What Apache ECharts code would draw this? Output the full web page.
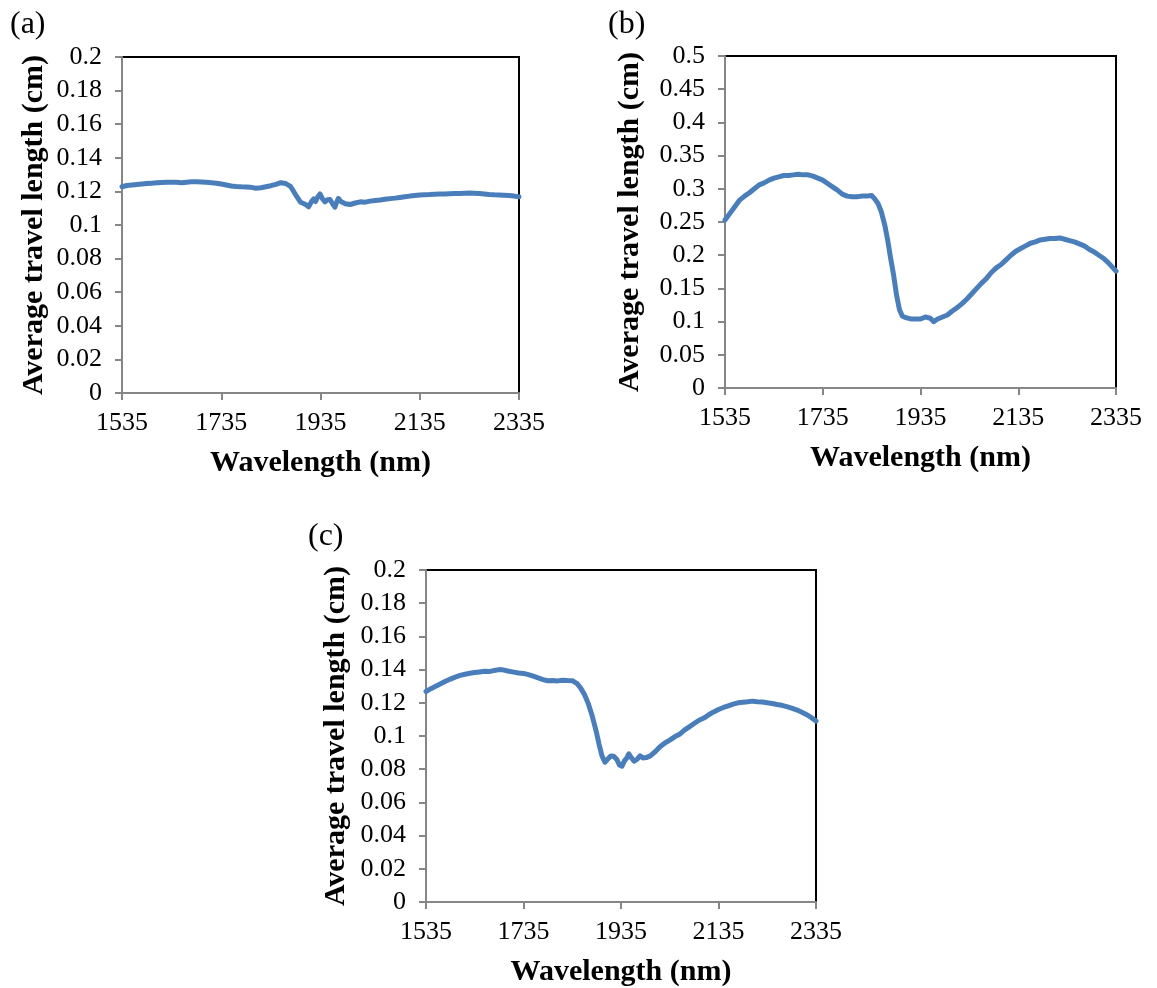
<!DOCTYPE html>
<html>
<head>
<meta charset="utf-8">
<script src="https://cdn.jsdelivr.net/npm/echarts@6/dist/echarts.min.js"></script>
<style>
html,body{margin:0;padding:0;background:#fff;}
#chart{width:1157px;height:988px;}
</style>
</head>
<body>
<div id="chart"></div>
<script>
// ---- Data ----
const panelLabels = ['(a)', '(b)', '(c)'];
const xTitle = 'Wavelength (nm)';
const yTitle = 'Average travel length (cm)';
const xTicks = [1535, 1735, 1935, 2135, 2335];

const wlA = [1535,1545,1555,1565,1575,1585,1595,1605,1615,1625,1635,1645,1655,1665,1675,1685,1695,1705,1715,1725,1735,1745,1755,1765,1775,1785,1795,1805,1815,1825,1835,1845,1855,1865,1875,1885,1895,1905,1911,1917,1921,1925,1929,1934,1939,1944,1949,1954,1959,1964,1968,1971,1976,1985,1995,2005,2015,2025,2035,2045,2055,2065,2075,2085,2095,2105,2115,2125,2135,2145,2155,2165,2175,2185,2195,2205,2215,2225,2235,2245,2255,2265,2275,2285,2295,2305,2315,2325,2335];
const valA = [0.1228,0.1235,0.1238,0.1241,0.1244,0.1247,0.1249,0.1251,0.1253,0.1254,0.1255,0.1254,0.1252,0.1255,0.1257,0.1258,0.1256,0.1254,0.1252,0.1249,0.1244,0.1238,0.1232,0.1229,0.1227,0.1226,0.1224,0.1219,0.1222,0.1228,0.1234,0.1242,0.1252,0.1247,0.1228,0.1180,0.1135,0.1122,0.1108,0.1140,0.1155,0.1140,0.1165,0.1185,0.1155,0.1138,0.1150,0.1152,0.1128,0.1106,0.1140,0.1158,0.1140,0.1127,0.1122,0.1131,0.1138,0.1136,0.1142,0.1146,0.1149,0.1153,0.1157,0.1160,0.1164,0.1168,0.1172,0.1175,0.1178,0.1180,0.1181,0.1183,0.1184,0.1185,0.1186,0.1187,0.1188,0.1189,0.1190,0.1189,0.1187,0.1185,0.1182,0.1180,0.1179,0.1177,0.1175,0.1172,0.1168];

const wlB = [1535,1545,1555,1565,1575,1585,1595,1605,1615,1625,1635,1645,1655,1665,1675,1685,1695,1705,1715,1725,1735,1745,1755,1765,1775,1785,1795,1805,1815,1825,1835,1840,1848,1855,1862,1868,1874,1880,1886,1892,1898,1905,1915,1925,1935,1945,1955,1962,1970,1980,1990,2000,2010,2020,2030,2040,2050,2060,2070,2080,2090,2100,2110,2120,2130,2140,2150,2160,2170,2180,2190,2200,2210,2220,2230,2240,2250,2260,2270,2280,2290,2300,2310,2320,2335];
const valB = [0.253,0.263,0.273,0.283,0.289,0.294,0.300,0.306,0.309,0.313,0.316,0.318,0.320,0.320,0.321,0.322,0.321,0.321,0.319,0.316,0.313,0.308,0.303,0.298,0.292,0.289,0.288,0.288,0.289,0.289,0.290,0.286,0.278,0.265,0.245,0.222,0.195,0.170,0.140,0.118,0.108,0.106,0.104,0.104,0.104,0.107,0.105,0.100,0.104,0.107,0.110,0.116,0.121,0.127,0.134,0.142,0.150,0.158,0.165,0.174,0.181,0.186,0.193,0.200,0.206,0.210,0.214,0.218,0.220,0.223,0.224,0.225,0.225,0.226,0.224,0.222,0.220,0.217,0.214,0.209,0.205,0.200,0.195,0.188,0.176];

const wlC = [1535,1545,1555,1565,1575,1585,1595,1605,1615,1625,1635,1645,1655,1665,1675,1685,1695,1705,1715,1725,1735,1745,1755,1765,1775,1785,1795,1805,1815,1825,1835,1845,1852,1860,1868,1876,1884,1890,1896,1902,1908,1914,1920,1926,1932,1937,1942,1947,1951,1956,1962,1968,1974,1980,1987,1995,2005,2015,2025,2035,2045,2055,2065,2075,2085,2095,2105,2115,2125,2135,2145,2155,2165,2175,2185,2195,2205,2215,2225,2235,2245,2255,2265,2275,2285,2295,2305,2315,2325,2335];
const valC = [0.1268,0.1285,0.1300,0.1315,0.1330,0.1343,0.1355,0.1365,0.1372,0.1378,0.1382,0.1386,0.1390,0.1388,0.1395,0.1400,0.1397,0.1390,0.1385,0.1380,0.1377,0.1370,0.1360,0.1350,0.1340,0.1333,0.1335,0.1332,0.1336,0.1334,0.1333,0.1315,0.1290,0.1250,0.1195,0.1120,0.1030,0.0950,0.0880,0.0842,0.0862,0.0880,0.0878,0.0860,0.0825,0.0818,0.0850,0.0868,0.0893,0.0870,0.0848,0.0860,0.0880,0.0868,0.0870,0.0880,0.0905,0.0935,0.0958,0.0975,0.0995,0.1010,0.1035,0.1055,0.1075,0.1095,0.1108,0.1128,0.1145,0.1160,0.1172,0.1182,0.1192,0.1200,0.1203,0.1206,0.1210,0.1207,0.1205,0.1200,0.1196,0.1190,0.1185,0.1177,0.1168,0.1158,0.1145,0.1130,0.1112,0.1090];

const yMaxA = 0.2, yStepA = 0.02;
const yMaxB = 0.5, yStepB = 0.05;
const yMaxC = 0.2, yStepC = 0.02;

// ---- Chart ----
const FONT = 'Liberation Serif';
const GREY = '#868686';
const LINE = '#4a7ebb';

const grids = [
  {left: 122, top: 57, width: 397, height: 336},
  {left: 725, top: 56, width: 391, height: 332},
  {left: 426, top: 570, width: 390, height: 332}
];
grids.forEach(g => { g.show = true; g.borderColor = '#000'; g.borderWidth = 2; g.backgroundColor = '#fff'; });

function xAxis(i) {
  return {
    type: 'value', gridIndex: i, min: xTicks[0], max: xTicks[xTicks.length - 1], interval: 200,
    name: xTitle, nameLocation: 'middle', nameGap: 55,
    nameTextStyle: {fontFamily: FONT, fontSize: 30, fontWeight: 'bold', color: '#000'},
    axisLine: {show: true, onZero: false, lineStyle: {color: GREY, width: 2}},
    axisTick: {show: true, length: 7, lineStyle: {color: GREY, width: 2}},
    axisLabel: {fontFamily: FONT, fontSize: 26, color: '#000', margin: 17,
      formatter: v => String(v)},
    splitLine: {show: false}
  };
}
function yAxis(i, max, step, gap) {
  return {
    type: 'value', gridIndex: i, min: 0, max: max, interval: step,
    name: yTitle, nameLocation: 'middle', nameGap: gap,
    nameTextStyle: {fontFamily: FONT, fontSize: 30, fontWeight: 'bold', color: '#000'},
    axisLine: {show: true, lineStyle: {color: GREY, width: 2}},
    axisTick: {show: true, length: 7, lineStyle: {color: GREY, width: 2}},
    axisLabel: {fontFamily: FONT, fontSize: 26, color: '#000', margin: 20,
      formatter: v => String(+v.toFixed(2))},
    splitLine: {show: false}
  };
}
function series(i, wl, val) {
  return {
    type: 'line', xAxisIndex: i, yAxisIndex: i,
    data: wl.map((w, k) => [w, val[k]]),
    showSymbol: false, symbol: 'none', smooth: false,
    lineStyle: {color: LINE, width: 5, cap: 'round', join: 'round'},
    z: 3
  };
}

const chart = echarts.init(document.getElementById('chart'), null, {renderer: 'canvas'});
chart.setOption({
  animation: false,
  backgroundColor: '#fff',
  grid: grids,
  xAxis: [xAxis(0), xAxis(1), xAxis(2)],
  yAxis: [yAxis(0, yMaxA, yStepA, 73), yAxis(1, yMaxB, yStepB, 80), yAxis(2, yMaxC, yStepC, 75)],
  series: [series(0, wlA, valA), series(1, wlB, valB), series(2, wlC, valC)],
  graphic: [
    {type: 'text', left: 10, top: 9, style: {text: panelLabels[0], font: '32px "Liberation Serif"', fill: '#000'}},
    {type: 'text', left: 608, top: 9, style: {text: panelLabels[1], font: '32px "Liberation Serif"', fill: '#000'}},
    {type: 'text', left: 308, top: 521, style: {text: panelLabels[2], font: '32px "Liberation Serif"', fill: '#000'}}
  ]
});
</script>
</body>
</html>
